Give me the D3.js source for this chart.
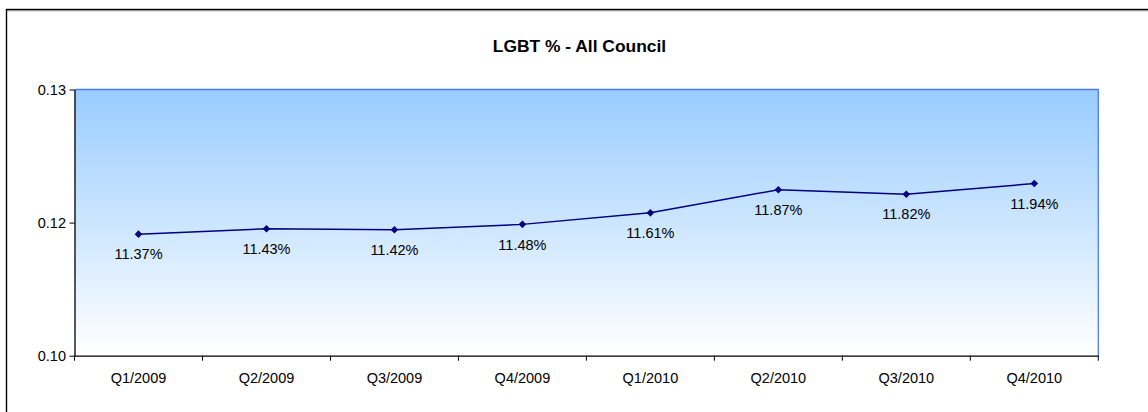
<!DOCTYPE html>
<html><head><meta charset="utf-8">
<script src="https://cdn.jsdelivr.net/npm/d3@7"></script>
<style>body{margin:0;background:#fff}svg{display:block}text{font-family:"Liberation Sans",Arial,sans-serif;fill:#000}</style>
</head><body>
<script>
const categories = ["Q1/2009","Q2/2009","Q3/2009","Q4/2009","Q1/2010","Q2/2010","Q3/2010","Q4/2010"];
const values = [0.1137,0.1143,0.1142,0.1148,0.1161,0.1187,0.1182,0.1194];
const yTicks = [0.10,0.115,0.13];
const title = "LGBT % - All Council";

const W=1148,H=412;
const m={left:74.5,right:1098.3,top:89.5,bottom:355.7};
const svg=d3.select("body").append("svg").attr("width",W).attr("height",H);

svg.append("line").attr("x1",6.5).attr("x2",W+10).attr("y1",10.8).attr("y2",10.8).attr("stroke","#999").attr("stroke-width",1);
svg.append("rect").attr("x",6.5).attr("y",9.5).attr("width",1200).attr("height",500).attr("fill","none").attr("stroke","#000").attr("stroke-width",1.4);

const defs=svg.append("defs");
const g=defs.append("linearGradient").attr("id","bg").attr("x1",0).attr("x2",0).attr("y1",0).attr("y2",1);
g.append("stop").attr("offset","0%").attr("stop-color","#99CCFF");
g.append("stop").attr("offset","100%").attr("stop-color","#FFFFFF");

const x=d3.scaleBand().domain(categories).range([m.left,m.right]).padding(0);
const y=d3.scaleLinear().domain([0.10,0.13]).range([m.bottom,m.top]);

svg.append("rect").attr("x",m.left).attr("y",m.top).attr("width",m.right-m.left).attr("height",m.bottom-m.top).attr("fill","url(#bg)");
svg.append("path").attr("d",`M${m.left},${m.top}H${m.right}V${m.bottom}`).attr("fill","none").attr("stroke","#4A7BFF").attr("stroke-width",1.3);

const yAxis=svg.append("g").attr("transform",`translate(${m.left},0)`)
  .call(d3.axisLeft(y).tickValues(yTicks).tickFormat(d3.format(".2f")).tickSize(5).tickSizeOuter(0));
yAxis.select(".domain").attr("stroke","#000").attr("stroke-width",1.3);
yAxis.selectAll(".tick line").attr("stroke","#000");
yAxis.selectAll("text").attr("font-size",14.5).attr("font-family","Liberation Sans, Arial, sans-serif").attr("x",-8.5).attr("fill","#000");

const xAxis=svg.append("g").attr("transform",`translate(0,${m.bottom})`)
  .call(d3.axisBottom(x).tickSize(0).tickSizeOuter(0));
xAxis.select(".domain").attr("stroke","#000").attr("stroke-width",1.3);
xAxis.selectAll("text").attr("font-size",14.5).attr("font-family","Liberation Sans, Arial, sans-serif").attr("fill","#000").attr("dy",0).attr("y",27.8);
const bounds=categories.map(c=>x(c)).concat([m.right]);
svg.append("g").selectAll("line").data(bounds).join("line")
  .attr("x1",d=>d).attr("x2",d=>d).attr("y1",m.bottom).attr("y2",m.bottom+5).attr("stroke","#000").attr("stroke-width",1);

const cx=(c)=>x(c)+x.bandwidth()/2;
svg.append("path").datum(values).attr("fill","none").attr("stroke","#000080").attr("stroke-width",1.5)
  .attr("d",d3.line().x((d,i)=>cx(categories[i])).y(d=>y(d)));
svg.append("g").selectAll("path").data(values).join("path")
  .attr("transform",(d,i)=>`translate(${cx(categories[i])},${y(d)})`)
  .attr("d","M0,-3.8L3.8,0L0,3.8L-3.8,0Z").attr("fill","#000080");
svg.append("g").selectAll("text").data(values).join("text")
  .attr("x",(d,i)=>cx(categories[i])).attr("y",d=>y(d)+25.2)
  .attr("text-anchor","middle").attr("font-size",14.5)
  .text(d=>d3.format(".2%")(d));

svg.append("text").attr("x",579.5).attr("y",52.3).attr("text-anchor","middle").attr("font-weight","bold").attr("font-size",17.4).text(title);
</script>
</body></html>
